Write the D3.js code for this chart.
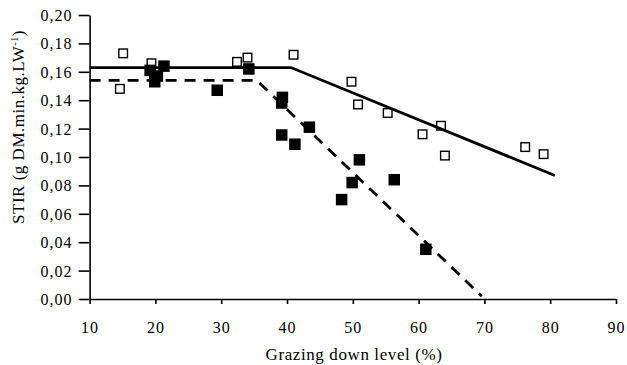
<!DOCTYPE html>
<html>
<head>
<meta charset="utf-8">
<script src="https://cdn.jsdelivr.net/npm/d3@7"></script>
<style>
  html, body { margin: 0; padding: 0; background: #fff; }
  svg { display: block; }
  text { font-family: "Liberation Serif", "Times New Roman", serif; fill: #000; }
</style>
</head>
<body>
<svg id="chart" width="627" height="365"></svg>
<script>
// Open squares: first treatment (grazing level %, STIR)
const openX = [15.1, 14.6, 19.4, 32.4, 34.0, 41.0, 49.8, 50.8, 55.3, 60.6, 63.4, 64.0, 76.2, 79.0];
const openY = [0.173, 0.148, 0.166, 0.167, 0.170, 0.172, 0.153, 0.137, 0.131, 0.116, 0.122, 0.101, 0.107, 0.102];

// Filled squares: second treatment
const filledX = [19.2, 19.9, 20.3, 21.3, 29.4, 34.2, 39.3, 39.2, 39.2, 41.2, 43.4, 51.0, 49.9, 48.3, 56.3, 61.1];
const filledY = [0.161, 0.153, 0.157, 0.164, 0.147, 0.162, 0.142, 0.138, 0.1155, 0.109, 0.121, 0.098, 0.082, 0.070, 0.084, 0.035];

// Broken-stick fits (plateau then linear decline)
const solidFitX = [10, 40.6, 80.7];
const solidFitY = [0.163, 0.163, 0.087];
const dashedFitX = [10, 35.4, 69.6];
const dashedFitY = [0.154, 0.154, 0.002];

// Axis ticks
const xTicks = [10, 20, 30, 40, 50, 60, 70, 80, 90];
const yTicks = [0, 0.02, 0.04, 0.06, 0.08, 0.10, 0.12, 0.14, 0.16, 0.18, 0.20];

const svg = d3.select("#chart");
const x = d3.scaleLinear().domain([10, 90]).range([89.6, 616]);
const y = d3.scaleLinear().domain([0, 0.2]).range([299, 15]);

const fmt = v => d3.format(".2f")(v).replace(".", ",");

// Y axis
const gy = svg.append("g").attr("transform", `translate(${x(10)},0)`)
  .call(d3.axisLeft(y).tickValues(yTicks).tickFormat(fmt).tickSizeOuter(0).tickSizeInner(11).tickPadding(6));
// X axis
const gx = svg.append("g").attr("transform", `translate(0,${y(0)})`)
  .call(d3.axisBottom(x).tickValues(xTicks).tickFormat(d3.format("d")).tickSizeOuter(0).tickSizeInner(5).tickPadding(29));

[gx, gy].forEach(g => {
  g.select(".domain").attr("stroke", "#000").attr("stroke-width", 1.6);
  g.selectAll(".tick line").attr("stroke", "#000").attr("stroke-width", 1.6);
  g.selectAll(".tick text")
    .style("font-family", "'Liberation Serif', 'Times New Roman', serif")
    .style("font-size", "16px").style("letter-spacing", "1px").attr("fill", "#000");
});
gx.selectAll(".tick text").attr("dy", "0");
gy.selectAll(".tick text").attr("dy", "0.34em");

// Axis titles
svg.append("text")
  .attr("x", 354).attr("y", 360)
  .attr("text-anchor", "middle")
  .style("font-size", "17px").style("letter-spacing", "0.6px")
  .text("Grazing down level (%)");

const yt = svg.append("text")
  .attr("transform", "translate(24,127) rotate(-90)")
  .attr("text-anchor", "middle")
  .style("font-size", "17px").style("letter-spacing", "0.5px");
yt.append("tspan").text("STIR (g DM.min.kg.LW");
yt.append("tspan").attr("dy", "-6").style("font-size", "10px").text("-1");
yt.append("tspan").attr("dy", "6").text(")");

// Fitted lines
const line = d3.line().x(d => x(d[0])).y(d => y(d[1]));
svg.append("path")
  .datum(solidFitX.map((v, i) => [v, solidFitY[i]]))
  .attr("d", line).attr("fill", "none").attr("stroke", "#000").attr("stroke-width", 2.8);
svg.append("path")
  .datum(dashedFitX.map((v, i) => [v, dashedFitY[i]]))
  .attr("d", line).attr("fill", "none").attr("stroke", "#000").attr("stroke-width", 2.8)
  .attr("stroke-dasharray", "11,8");

// Markers
const openSize = 10, filledSize = 11.5;
svg.append("g").selectAll("rect")
  .data(openX.map((v, i) => [v, openY[i]]))
  .join("rect")
  .attr("x", d => x(d[0]) - openSize / 2 + 0.7)
  .attr("y", d => y(d[1]) - openSize / 2 + 0.7)
  .attr("width", openSize - 1.4).attr("height", openSize - 1.4)
  .attr("fill", "none").attr("stroke", "#000").attr("stroke-width", 1.4);

svg.append("g").selectAll("rect")
  .data(filledX.map((v, i) => [v, filledY[i]]))
  .join("rect")
  .attr("x", d => x(d[0]) - filledSize / 2)
  .attr("y", d => y(d[1]) - filledSize / 2)
  .attr("width", filledSize).attr("height", filledSize)
  .attr("fill", "#000");
</script>
</body>
</html>
